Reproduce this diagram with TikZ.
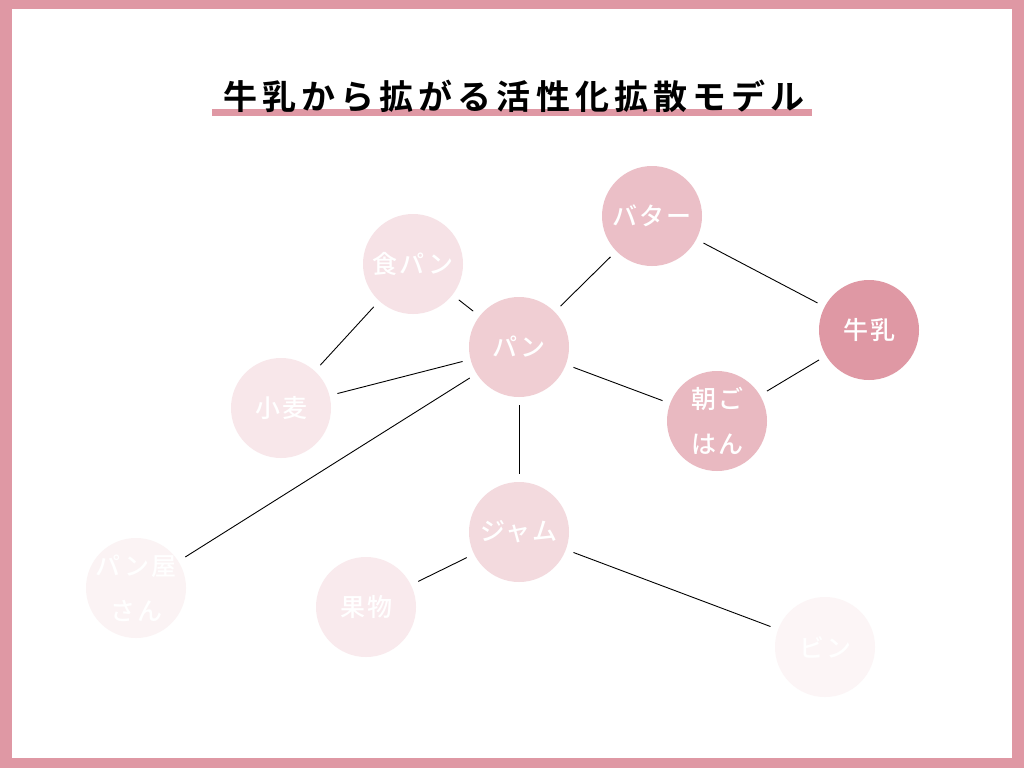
\documentclass[tikz,border=0pt]{standalone}
\usepackage{fontspec}
\setmainfont{Noto Sans CJK JP}
\newfontfamily\titlefont[LetterSpace=15]{Noto Sans CJK JP Bold}
\newfontfamily\nodefont[LetterSpace=8]{Noto Sans CJK JP Medium}
\definecolor{milk}{HTML}{DF98A4}
\begin{document}
\begin{tikzpicture}[x=1pt,y=-1pt,every node/.style={circle,minimum size=100pt,inner sep=0pt,text=white,align=center,font=\nodefont\fontsize{25}{45}\selectfont},
  twoline/.style={inner sep=-14pt},
  link/.style={line width=0.9pt,shorten >=8pt,shorten <=8pt}]
  \fill[milk] (0,0) rectangle (1024,768);
  \fill[white] (12,9) rectangle (1012,758);
  \fill[milk] (212,109) rectangle (812,116);
  \node[rectangle,minimum size=0pt,text=black,font=\titlefont\fontsize{34}{40}\selectfont] (title) at (514,96) {牛乳から拡がる活性化拡散モデル};

  \node[fill=milk] (milk) at (869,330) {牛乳};
  \node[fill=milk!62!white] (butter) at (652,216) {バター};
  \node[fill=milk!68!white,twoline] (breakfast) at (717,421) {朝ご\\はん};
  \node[fill=milk!48!white] (bread) at (519,347) {パン};
  \node[fill=milk!36!white] (jam) at (519,532) {ジャム};
  \node[fill=milk!28!white] (loaf) at (413,264) {食パン};
  \node[fill=milk!23!white] (wheat) at (281,408) {小麦};
  \node[fill=milk!20!white] (fruit) at (366,607) {果物};
  \node[fill=milk!12!white,twoline] (bakery) at (136,588) {パン屋\\さん};
  \node[fill=milk!10!white] (jar) at (825,647) {ビン};

  \draw[link] (butter) -- (milk);
  \draw[link] (bread) -- (butter);
  \draw[link] (loaf) -- (bread);
  \draw[link] (wheat) -- (loaf);
  \draw[link] (wheat) -- (bread);
  \draw[link] (bread) -- (breakfast);
  \draw[link] (breakfast) -- (milk);
  \draw[link] (bakery) -- (bread);
  \draw[link] (bread) -- (jam);
  \draw[link] (fruit) -- (jam);
  \draw[link] (jam) -- (jar);
\end{tikzpicture}
\end{document}
